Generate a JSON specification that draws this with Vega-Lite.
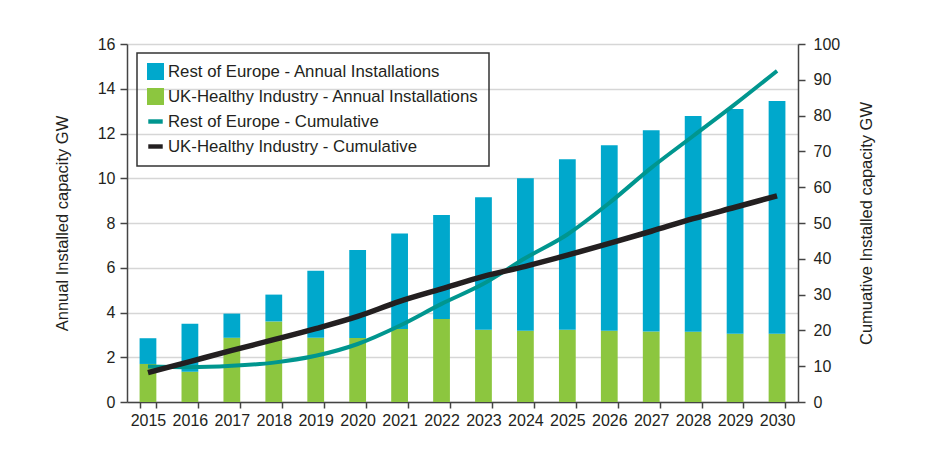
{
  "$schema": "https://vega.github.io/schema/vega-lite/v6.json",
  "width": 671,
  "height": 358,
  "autosize": {"type": "none"},
  "padding": {"left": 127, "top": 44, "right": 131, "bottom": 53},
  "background": "white",
  "config": {
    "font": "Liberation Sans",
    "view": {"stroke": null},
    "axis": {"labelFontSize": 16, "labelColor": "#231f20", "titleFontSize": 16.5, "titleFontWeight": "normal", "titleColor": "#231f20", "domainColor": "#444", "domainWidth": 1.5, "tickColor": "#444", "tickWidth": 1.5, "tickSize": 7}
  },
  "datasets": {
    "bars": [
      {"year": "2015", "series": "UK-Healthy Industry - Annual Installations", "value": 1.7},
      {"year": "2015", "series": "Rest of Europe - Annual Installations", "value": 1.15},
      {"year": "2016", "series": "UK-Healthy Industry - Annual Installations", "value": 1.35},
      {"year": "2016", "series": "Rest of Europe - Annual Installations", "value": 2.15},
      {"year": "2017", "series": "UK-Healthy Industry - Annual Installations", "value": 2.87},
      {"year": "2017", "series": "Rest of Europe - Annual Installations", "value": 1.08},
      {"year": "2018", "series": "UK-Healthy Industry - Annual Installations", "value": 3.6},
      {"year": "2018", "series": "Rest of Europe - Annual Installations", "value": 1.2},
      {"year": "2019", "series": "UK-Healthy Industry - Annual Installations", "value": 2.87},
      {"year": "2019", "series": "Rest of Europe - Annual Installations", "value": 3.0},
      {"year": "2020", "series": "UK-Healthy Industry - Annual Installations", "value": 2.86},
      {"year": "2020", "series": "Rest of Europe - Annual Installations", "value": 3.93},
      {"year": "2021", "series": "UK-Healthy Industry - Annual Installations", "value": 3.26},
      {"year": "2021", "series": "Rest of Europe - Annual Installations", "value": 4.27},
      {"year": "2022", "series": "UK-Healthy Industry - Annual Installations", "value": 3.71},
      {"year": "2022", "series": "Rest of Europe - Annual Installations", "value": 4.65},
      {"year": "2023", "series": "UK-Healthy Industry - Annual Installations", "value": 3.23},
      {"year": "2023", "series": "Rest of Europe - Annual Installations", "value": 5.92},
      {"year": "2024", "series": "UK-Healthy Industry - Annual Installations", "value": 3.18},
      {"year": "2024", "series": "Rest of Europe - Annual Installations", "value": 6.82},
      {"year": "2025", "series": "UK-Healthy Industry - Annual Installations", "value": 3.23},
      {"year": "2025", "series": "Rest of Europe - Annual Installations", "value": 7.62},
      {"year": "2026", "series": "UK-Healthy Industry - Annual Installations", "value": 3.18},
      {"year": "2026", "series": "Rest of Europe - Annual Installations", "value": 8.3},
      {"year": "2027", "series": "UK-Healthy Industry - Annual Installations", "value": 3.15},
      {"year": "2027", "series": "Rest of Europe - Annual Installations", "value": 9.0},
      {"year": "2028", "series": "UK-Healthy Industry - Annual Installations", "value": 3.14},
      {"year": "2028", "series": "Rest of Europe - Annual Installations", "value": 9.64},
      {"year": "2029", "series": "UK-Healthy Industry - Annual Installations", "value": 3.05},
      {"year": "2029", "series": "Rest of Europe - Annual Installations", "value": 10.04},
      {"year": "2030", "series": "UK-Healthy Industry - Annual Installations", "value": 3.05},
      {"year": "2030", "series": "Rest of Europe - Annual Installations", "value": 10.4}
    ],
    "lines": [
      {"year": "2015", "series": "Rest of Europe - Cumulative", "value": 9.9},
      {"year": "2016", "series": "Rest of Europe - Cumulative", "value": 9.7},
      {"year": "2017", "series": "Rest of Europe - Cumulative", "value": 10.1},
      {"year": "2018", "series": "Rest of Europe - Cumulative", "value": 11.0},
      {"year": "2019", "series": "Rest of Europe - Cumulative", "value": 12.9},
      {"year": "2020", "series": "Rest of Europe - Cumulative", "value": 16.2},
      {"year": "2021", "series": "Rest of Europe - Cumulative", "value": 21.3},
      {"year": "2022", "series": "Rest of Europe - Cumulative", "value": 27.4},
      {"year": "2023", "series": "Rest of Europe - Cumulative", "value": 33.0},
      {"year": "2024", "series": "Rest of Europe - Cumulative", "value": 40.2},
      {"year": "2025", "series": "Rest of Europe - Cumulative", "value": 46.8},
      {"year": "2026", "series": "Rest of Europe - Cumulative", "value": 55.6},
      {"year": "2027", "series": "Rest of Europe - Cumulative", "value": 65.4},
      {"year": "2028", "series": "Rest of Europe - Cumulative", "value": 74.3},
      {"year": "2029", "series": "Rest of Europe - Cumulative", "value": 83.2},
      {"year": "2030", "series": "Rest of Europe - Cumulative", "value": 92.5},
      {"year": "2015", "series": "UK-Healthy Industry - Cumulative", "value": 8.2},
      {"year": "2016", "series": "UK-Healthy Industry - Cumulative", "value": 11.3},
      {"year": "2017", "series": "UK-Healthy Industry - Cumulative", "value": 14.4},
      {"year": "2018", "series": "UK-Healthy Industry - Cumulative", "value": 17.4},
      {"year": "2019", "series": "UK-Healthy Industry - Cumulative", "value": 20.5},
      {"year": "2020", "series": "UK-Healthy Industry - Cumulative", "value": 23.9},
      {"year": "2021", "series": "UK-Healthy Industry - Cumulative", "value": 28.1},
      {"year": "2022", "series": "UK-Healthy Industry - Cumulative", "value": 31.6},
      {"year": "2023", "series": "UK-Healthy Industry - Cumulative", "value": 35.1},
      {"year": "2024", "series": "UK-Healthy Industry - Cumulative", "value": 37.9},
      {"year": "2025", "series": "UK-Healthy Industry - Cumulative", "value": 41.0},
      {"year": "2026", "series": "UK-Healthy Industry - Cumulative", "value": 44.3},
      {"year": "2027", "series": "UK-Healthy Industry - Cumulative", "value": 47.7},
      {"year": "2028", "series": "UK-Healthy Industry - Cumulative", "value": 51.2},
      {"year": "2029", "series": "UK-Healthy Industry - Cumulative", "value": 54.4},
      {"year": "2030", "series": "UK-Healthy Industry - Cumulative", "value": 57.6}
    ]
  },
  "layer": [
    {
      "data": {"name": "bars"},
      "mark": {"type": "bar"},
      "encoding": {
        "x": {
          "field": "year", "type": "ordinal",
          "scale": {"paddingInner": 0.6, "paddingOuter": 0.3},
          "axis": {"title": null, "labelAngle": 0, "tickBand": "extent", "tickSize": 6, "labelPadding": 4, "grid": false}
        },
        "y": {
          "field": "value", "type": "quantitative", "stack": "zero",
          "scale": {"domain": [0, 16], "nice": false},
          "axis": {"title": "Annual Installed capacity GW", "values": [0, 2, 4, 6, 8, 10, 12, 14, 16], "grid": true, "gridColor": "#d6d6d6", "gridWidth": 1.5, "labelPadding": 5, "titlePadding": 27}
        },
        "color": {
          "field": "series", "type": "nominal",
          "scale": {
            "domain": ["Rest of Europe - Annual Installations", "UK-Healthy Industry - Annual Installations", "Rest of Europe - Cumulative", "UK-Healthy Industry - Cumulative"],
            "range": ["#00a8cc", "#8cc63f", "#00968f", "#231f20"]
          },
          "legend": {
            "orient": "none", "legendX": 10, "legendY": 9, "title": null,
            "labelFontSize": 16.8, "labelColor": "#231f20", "labelLimit": 400,
            "symbolSize": 289, "labelOffset": 4, "rowPadding": 7, "padding": 10,
            "strokeColor": "#333",
            "encode": {
              "legend": {"update": {"stroke": {"value": "#333"}, "strokeWidth": {"value": 1.5}}},
              "symbols": {"update": {
                "shape": {"signal": "indexof(datum.value, 'Cumulative') > 0 ? 'M-0.85,-0.26H0.85V0.26H-0.85Z' : 'square'"},
                "fill": {"scale": "color", "field": "value"},
                "stroke": {"value": "transparent"},
                "strokeWidth": {"value": 0},
                "opacity": {"value": 1}
              }}
            }
          }
        },
        "order": {"field": "series", "sort": "descending"}
      }
    },
    {
      "data": {"name": "lines"},
      "mark": {"type": "line", "interpolate": "monotone"},
      "encoding": {
        "x": {"field": "year", "type": "ordinal"},
        "y": {
          "field": "value", "type": "quantitative",
          "scale": {"domain": [0, 100], "nice": false},
          "axis": {"orient": "right", "title": "Cumuative Installed capacity GW", "values": [0, 10, 20, 30, 40, 50, 60, 70, 80, 90, 100], "grid": false, "labelPadding": 8, "titleAngle": -90, "titleBaseline": "top", "titlePadding": 19}
        },
        "color": {"field": "series", "type": "nominal"},
        "strokeWidth": {
          "field": "series", "type": "nominal",
          "scale": {"domain": ["Rest of Europe - Cumulative", "UK-Healthy Industry - Cumulative"], "range": [4, 5.5]},
          "legend": null
        }
      }
    }
  ],
  "resolve": {"scale": {"y": "independent"}}
}
